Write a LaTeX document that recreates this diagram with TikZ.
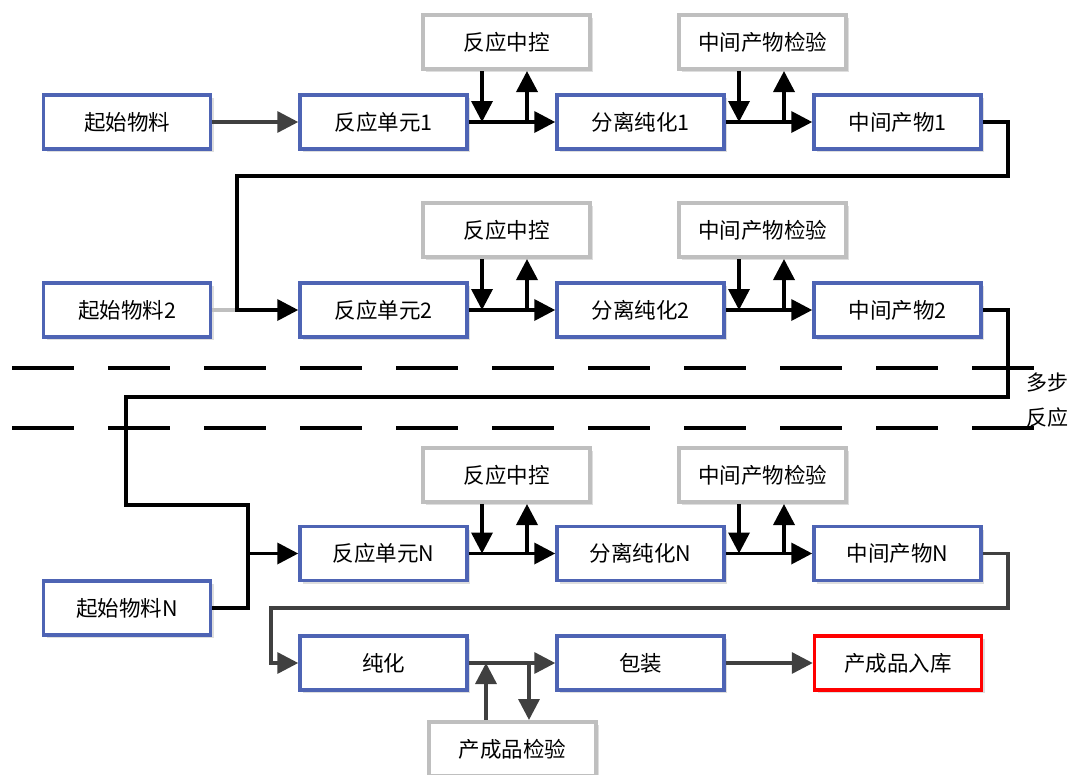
\documentclass[tikz,border=0pt]{standalone}
\usepackage{fontspec}
\newfontfamily\cjk{Noto Sans CJK SC}
\usetikzlibrary{arrows.meta,shadows}
\definecolor{boxblue}{HTML}{4E64B4}
\definecolor{boxgray}{HTML}{BFBFBF}
\definecolor{darkline}{HTML}{404040}
\begin{document}
\begin{tikzpicture}[x=1pt,y=-1pt,
  base/.style={minimum width=167pt,minimum height=54pt,inner sep=0pt,fill=white,
    font=\cjk\fontsize{21.5}{24}\selectfont,
    drop shadow={shadow xshift=3pt,shadow yshift=-3pt,fill=black!13,opacity=1}},
  bluebox/.style={base,draw=boxblue,line width=3.5pt},
  graybox/.style={base,draw=boxgray,line width=4pt},
  redbox/.style={base,draw=red,line width=3.5pt},
  blk/.style={draw=black,line width=3.6pt},
  dk/.style={draw=darkline,line width=3.4pt},
  lt/.style={draw=boxgray,line width=3.4pt},
  arr/.style={-{Triangle[length=21pt,width=21pt]}},
  dashline/.style={draw=black,line width=3.8pt,dash pattern=on 62pt off 34pt}
]
\useasboundingbox (0,0) rectangle (1068,774);
\fill[white] (0,0) rectangle (1068,774);

% dashed separators
\coordinate (dla) at (12,368); \coordinate (dlb) at (1036,368);
\coordinate (dlc) at (12,428); \coordinate (dld) at (1036,428);
\draw[dashline] (dla) -- (dlb);
\draw[dashline] (dlc) -- (dld);
\node[font=\cjk\fontsize{21}{35}\selectfont,align=center,inner sep=0pt] (multi) at (1047,400) {多步\\反应};

% Row 1
\node[bluebox] (s1) at (127,122) {起始物料};
\node[bluebox] (r1) at (383.5,122) {反应单元1};
\node[bluebox] (p1) at (640.5,122) {分离纯化1};
\node[bluebox] (m1) at (897.5,122) {中间产物1};
\node[graybox] (g1) at (506.5,42) {反应中控};
\node[graybox] (h1) at (762.5,42) {中间产物检验};

% Row 2
\node[bluebox] (s2) at (127,310) {起始物料2};
\node[bluebox] (r2) at (383.5,310) {反应单元2};
\node[bluebox] (p2) at (640.5,310) {分离纯化2};
\node[bluebox] (m2) at (897.5,310) {中间产物2};
\node[graybox] (g2) at (506.5,230) {反应中控};
\node[graybox] (h2) at (762.5,230) {中间产物检验};

% Row N
\node[bluebox] (sN) at (127,608) {起始物料N};
\node[bluebox] (rN) at (383.5,553.5) {反应单元N};
\node[bluebox] (pN) at (640.5,553.5) {分离纯化N};
\node[bluebox] (mN) at (897.5,553.5) {中间产物N};
\node[graybox] (gN) at (506.5,475) {反应中控};
\node[graybox] (hN) at (762.5,475) {中间产物检验};

% Final row
\node[bluebox] (pur) at (383.5,663) {纯化};
\node[bluebox] (pack) at (640.5,663) {包装};
\node[redbox] (store) at (898,663) {产成品入库};
\node[graybox] (qc) at (512.5,749) {产成品检验};

% Row connectors
\draw[dk,arr] (s1.east) -- (r1.west);
\foreach \r/\p/\m/\g/\h/\y in {r1/p1/m1/g1/h1/122, r2/p2/m2/g2/h2/310, rN/pN/mN/gN/hN/553.5}{
  \draw[blk,arr] (\r.east) -- (\p.west);
  \draw[blk,arr] (\p.east) -- (\m.west);
  \coordinate (da) at (482,\y); \coordinate (ua) at (527,\y);
  \coordinate (db) at (739,\y); \coordinate (ub) at (784,\y);
  \draw[blk,arr] (\g.south -| da) -- (da);
  \draw[blk,arr] (ua) -- (\g.south -| ua);
  \draw[blk,arr] (\h.south -| db) -- (db);
  \draw[blk,arr] (ub) -- (\h.south -| ub);
}

% Row 1 -> Row 2
\coordinate (t1) at (1008,176);
\coordinate (t2) at (237,176);
\draw[lt] (s2.east) -- (s2.east -| t2);
\draw[blk,arr] (m1.east) -| (t1) -- (t2) |- (r2.west);

% Row 2 -> Row N
\coordinate (t3) at (1008,397);
\coordinate (t4) at (126,397);
\coordinate (t5) at (126,505);
\coordinate (t6) at (248,505);
\draw[blk,arr] (m2.east) -| (t3) -- (t4) -- (t5) -- (t6) |- (rN.west);
\draw[blk] (sN.east) -| (rN.west -| t6);

% Row N -> final
\coordinate (t7) at (1008,608);
\coordinate (t8) at (271,608);
\draw[dk,arr] (mN.east) -| (t7) -- (t8) |- (pur.west);
\draw[dk,arr] (pur.east) -- (pack.west);
\draw[dk,arr] (pack.east) -- (store.west);
\coordinate (qu) at (486,663);
\coordinate (qd) at (529,663);
\draw[dk,arr] (qc.north -| qu) -- (qu);
\draw[dk,arr] (qd) -- (qc.north -| qd);
\end{tikzpicture}
\end{document}
